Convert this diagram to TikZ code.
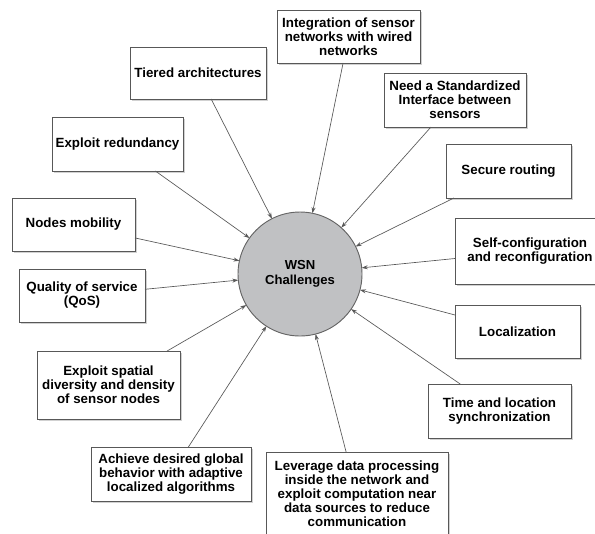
\documentclass[tikz,border=0pt]{standalone}
\usepackage{fontspec}
\setmainfont{Liberation Sans}
\usetikzlibrary{arrows.meta,shadows}

\definecolor{edgegray}{RGB}{88,88,88}
\definecolor{hubfill}{RGB}{192,193,195}
\definecolor{hubline}{RGB}{100,100,100}

\tikzset{
    challenge/.style={draw=edgegray, line width=0.7pt, fill=white, align=center,
        inner sep=2pt, outer sep=0pt, font=\fontsize{10}{10.5}\selectfont\bfseries,
        drop shadow={shadow xshift=1.3pt, shadow yshift=-1.3pt, fill=black!30, opacity=0.6}},
    boxsize/.style 2 args={minimum width=#1*0.75pt, minimum height=#2*0.75pt},
    hub/.style={circle, draw=hubline, line width=0.7pt, fill=hubfill, minimum size=124*0.75pt,
        inner sep=0pt, outer sep=0pt, align=center, font=\fontsize{9.8}{11}\selectfont\bfseries},
    feed/.style={draw=edgegray, line width=0.5pt, -{Stealth[length=4.5pt,width=3pt]}}
}

\begin{document}
\begin{tikzpicture}[x=0.75pt,y=0.75pt,yscale=-1,xscale=1]
    \useasboundingbox (0,0) rectangle (595,533);
    \clip (0,0) rectangle (595,533);

    % Centre
    \node [hub] (wsn) at (300,274) {WSN\\Challenges};

    % Boxes, clockwise from the top
    \node [challenge, boxsize={143}{53}] (integ) at (348.5,36.5) {Integration of sensor\\networks with wired\\networks};
    \node [challenge, boxsize={142}{54}] (stdif) at (455,100) {Need a Standardized\\Interface between\\sensors};
    \node [challenge, boxsize={125}{54}] (secure) at (508.5,171) {Secure routing};
    \node [challenge, boxsize={150}{66}] (selfcfg) at (530,251) {Self-configuration\\and reconfiguration};
    \node [challenge, boxsize={125}{53}] (local) at (517.5,331.5) {Localization};
    \node [challenge, boxsize={143}{54}] (timesync) at (499.5,411) {Time and location\\synchronization};
    \node [challenge, boxsize={182}{84}] (leverage) at (357,494) {Leverage data processing\\inside the network and\\exploit computation near\\data sources to reduce\\communication};
    \node [challenge, boxsize={160}{54}] (achieve) at (171,474) {Achieve desired global\\behavior with adaptive\\localized algorithms};
    \node [challenge, boxsize={143}{68}] (spatial) at (108.5,385) {Exploit spatial\\diversity and density\\of sensor nodes};
    \node [challenge, boxsize={126}{53}] (qos) at (82,295.5) {Quality of service\\(QoS)};
    \node [challenge, boxsize={123}{53}] (mobility) at (73.5,224.5) {Nodes mobility};
    \node [challenge, boxsize={131}{54}] (redund) at (117.5,144) {Exploit redundancy};
    \node [challenge, boxsize={136}{52}] (tiered) at (198,73) {Tiered architectures};

    % Arrows into the centre
    \foreach \src in {integ,stdif,secure,selfcfg,local,timesync,leverage,achieve,spatial,qos,mobility,redund,tiered}
        \draw [feed] (\src) -- (wsn);
\end{tikzpicture}
\end{document}
